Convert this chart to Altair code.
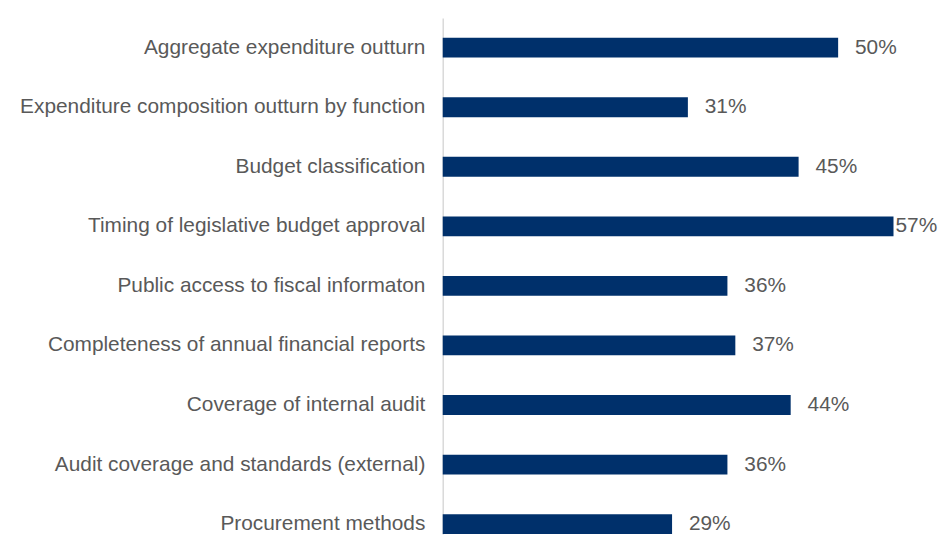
import altair as alt
import pandas as pd

categories = [
    "Aggregate expenditure outturn",
    "Expenditure composition outturn by function",
    "Budget classification",
    "Timing of legislative budget approval",
    "Public access to fiscal informaton",
    "Completeness of annual financial reports",
    "Coverage of internal audit",
    "Audit coverage and standards (external)",
    "Procurement methods",
]
values = [0.50, 0.31, 0.45, 0.57, 0.36, 0.37, 0.44, 0.36, 0.29]

df = pd.DataFrame({"category": categories, "value": values})
vmax = max(values)

FONT = "Liberation Sans"
TXT = "#595959"
BAR = "#00306B"

y_enc = alt.Y(
    "category:N",
    sort=categories,
    scale=alt.Scale(paddingInner=2 / 3, paddingOuter=1 / 6, align=1),
    axis=alt.Axis(
        title=None,
        ticks=False,
        grid=False,
        domain=True,
        domainColor="#D9D9D9",
        domainWidth=1.5,
        labelFont=FONT,
        labelFontSize=21,
        labelColor=TXT,
        labelPadding=18,
        labelLimit=0,
    ),
)
x_enc = alt.X("value:Q", scale=alt.Scale(domain=[0, 0.62], nice=False), axis=None)

base = alt.Chart(df)

bars = base.mark_bar(color=BAR).encode(x=x_enc, y=y_enc)

labels = (
    base.transform_filter(alt.datum.value < vmax)
    .mark_text(align="left", baseline="middle", dx=17, font=FONT, fontSize=21, color=TXT)
    .encode(x=x_enc, y=y_enc, text=alt.Text("value:Q", format=".0%"))
)
labels_max = (
    base.transform_filter(alt.datum.value >= vmax)
    .mark_text(align="left", baseline="middle", dx=2, font=FONT, fontSize=21, color=TXT)
    .encode(x=x_enc, y=y_enc, text=alt.Text("value:Q", format=".0%"))
)

chart = (
    alt.layer(bars, labels, labels_max)
    .properties(
        width=494,
        height=520,
        padding={"left": 11, "right": 0, "top": 8, "bottom": 0},
        background="white",
    )
    .configure_view(stroke=None, strokeWidth=0)
)

chart.save("out.html", embed_options={"renderer": "svg", "actions": False})
